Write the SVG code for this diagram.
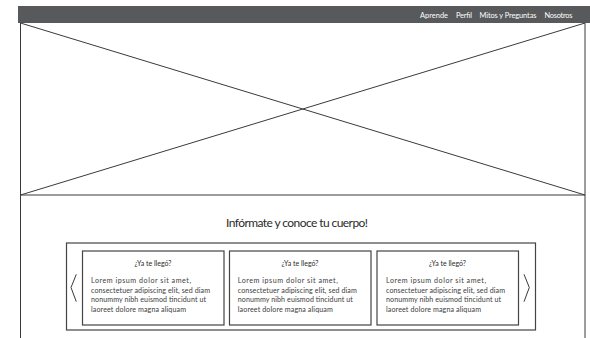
<svg xmlns="http://www.w3.org/2000/svg" width="590" height="338" viewBox="0 0 590 338">
<style>
.ln{stroke:#3a3a3a;stroke-width:1;fill:none}
.box{stroke:#444;stroke-width:1.2;fill:#fff}
.nav{font-family:Lato,"Open Sans","Liberation Sans",sans-serif;font-size:7.4px;fill:#fff}
.t{font-family:Lato,"Open Sans","Liberation Sans",sans-serif;fill:#2a2a2a}
.h{font-size:7px;text-anchor:middle}
.p{font-size:7.1px;fill:#3c3c3c}
</style>
<rect width="590" height="338" fill="#fff"/>
<g id="header">
<rect x="18" y="6" width="572" height="17" fill="#58595b"/>
<text class="nav" x="420" y="18" textLength="28">Aprende</text>
<text class="nav" x="456" y="18" textLength="16">Perfil</text>
<text class="nav" x="479.5" y="18" textLength="57">Mitos y Preguntas</text>
<text class="nav" x="544.5" y="18" textLength="28">Nosotros</text>
</g>
<g id="hero">
<line class="ln" x1="20.5" y1="23" x2="20.5" y2="338"/>
<line class="ln" x1="585" y1="23" x2="585" y2="338"/>
<line class="ln" x1="20.5" y1="195" x2="585" y2="195"/>
<line class="ln" x1="20.5" y1="23" x2="585" y2="195"/>
<line class="ln" x1="585" y1="23" x2="20.5" y2="195"/>
</g>
<g id="title">
<text class="t" x="297" y="226.5" font-size="12" text-anchor="middle" textLength="142">Infórmate y conoce tu cuerpo!</text>
</g>
<g id="carousel">
<rect class="box" x="66.5" y="243" width="469" height="87"/>
<polyline class="ln" points="76.3,274.3 71,287.5 76.3,301.7"/>
<polyline class="ln" points="524,274.3 529.3,287.5 524,301.7"/>
</g>
<g id="card1">
<rect class="box" x="82.5" y="251" width="141.5" height="74"/>
<text class="t h" x="153" y="265.5">¿Ya te llegó?</text>
<text class="t p" x="91" y="283" textLength="100">Lorem ipsum dolor sit amet,</text>
<text class="t p" x="91" y="292.7" textLength="119">consectetuer adipiscing elit, sed diam</text>
<text class="t p" x="91" y="302.2" textLength="115">nonummy nibh euismod tincidunt ut</text>
<text class="t p" x="91" y="311.8" textLength="95">laoreet dolore magna aliquam</text>
</g>
<g id="card2">
<rect class="box" x="229.5" y="251" width="141.5" height="74"/>
<text class="t h" x="300" y="265.5">¿Ya te llegó?</text>
<text class="t p" x="237.8" y="283" textLength="100">Lorem ipsum dolor sit amet,</text>
<text class="t p" x="237.8" y="292.7" textLength="119">consectetuer adipiscing elit, sed diam</text>
<text class="t p" x="237.8" y="302.2" textLength="115">nonummy nibh euismod tincidunt ut</text>
<text class="t p" x="237.8" y="311.8" textLength="95">laoreet dolore magna aliquam</text>
</g>
<g id="card3">
<rect class="box" x="377" y="251" width="141.5" height="74"/>
<text class="t h" x="447.5" y="265.5">¿Ya te llegó?</text>
<text class="t p" x="386" y="283" textLength="100">Lorem ipsum dolor sit amet,</text>
<text class="t p" x="386" y="292.7" textLength="119">consectetuer adipiscing elit, sed diam</text>
<text class="t p" x="386" y="302.2" textLength="115">nonummy nibh euismod tincidunt ut</text>
<text class="t p" x="386" y="311.8" textLength="95">laoreet dolore magna aliquam</text>
</g>
</svg>
